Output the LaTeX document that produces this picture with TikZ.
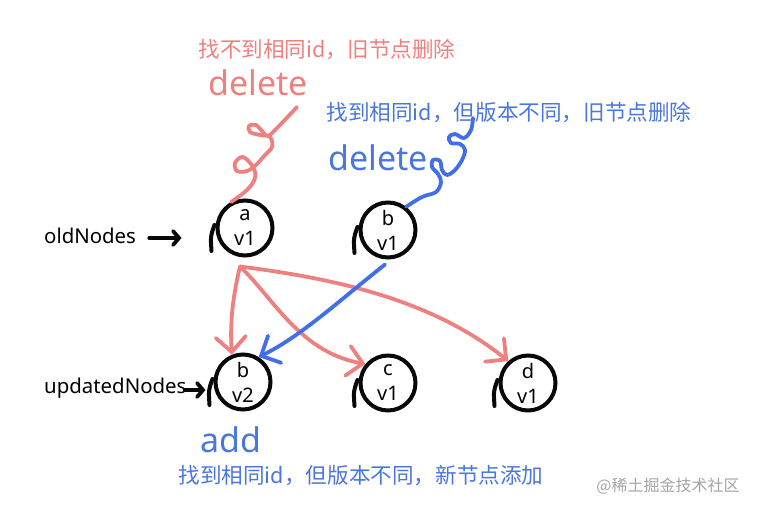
\documentclass[tikz,border=0pt]{standalone}
\usepackage{fontspec}
\setmainfont{Noto Sans}
\newfontfamily\cjk{Noto Sans CJK SC}
\usetikzlibrary{arrows.meta,calc}
\definecolor{lred}{RGB}{238,128,128}
\definecolor{lblue}{RGB}{74,118,222}
\definecolor{sblue}{RGB}{66,110,232}
\definecolor{ink}{RGB}{8,8,8}
\definecolor{wmgray}{RGB}{165,165,165}
\begin{document}
\begin{tikzpicture}[x=1pt,y=-1pt,
  nodecirc/.style={circle, draw=ink, line width=4pt, minimum size=55pt, inner sep=0pt, align=center, font=\fontsize{20}{25}\selectfont},
  tailstroke/.style={draw=ink, line width=4pt, line cap=round},
  blkarrow/.style={draw=ink, line width=3.8pt, line cap=round, -{Straight Barb[length=6pt,width=14pt,line cap=round]}},
  redarrow/.style={draw=lred, line width=3.8pt, line cap=round, -{Straight Barb[length=15pt,width=30pt,line cap=round]}},
  bluearrow/.style={draw=sblue, line width=3.8pt, line cap=round, -{Straight Barb[length=15pt,width=30pt,line cap=round]}},
  squig/.style={line width=3.8pt, line cap=round, line join=round},
  cjklabel/.style={font=\cjk\fontsize{21.6}{23}\selectfont, inner sep=0pt},
  biglabel/.style={font=\fontsize{34}{36}\selectfont, inner sep=0pt},
  sidelabel/.style={font=\fontsize{20.4}{22}\selectfont, inner sep=0pt, anchor=west}
]
\useasboundingbox (0,0) rectangle (770,511);

% nodes
\node[nodecirc] (a)  at (245,228) {a\\v1};
\node[nodecirc] (bo) at (388,230) {b\\v1};
\node[nodecirc] (bn) at (243,382) {b\\v2};
\node[nodecirc] (c)  at (388,383) {c\\v1};
\node[nodecirc] (d)  at (528,383) {d\\v1};

% hand-drawn left tails
\foreach \n in {a,bo,bn,c,d}{
  \draw[tailstroke] ($(\n.west)+(-1,-3)$) .. controls ($(\n.west)+(-5,8)$) .. ($(\n.west)+(-4,23)$);
}

% side labels
\node[sidelabel] (old) at (44,236) {oldNodes};
\node[sidelabel] (upd) at (44,388) {updatedNodes};
\coordinate (oldtail) at ($(old.east)+(13,2)$);
\coordinate (updtail) at ($(upd.east)+(-2,2)$);
\draw[blkarrow] (oldtail) -- ($(a.west)+(-34,10)$);
\draw[blkarrow] (updtail) -- ($(bn.west)+(-8,8)$);

% connectors
\coordinate (as) at ($(a.south)+(-5,9)$);
\draw[redarrow] (as) .. controls (232,300) and (230,325) .. (bn.112);
\draw[redarrow] (as) .. controls (275,300) and (300,352) .. (c.140);
\draw[redarrow] (as) .. controls (330,278) and (430,298) .. (d.132);
\draw[bluearrow] ($(bo.south)+(-3,5)$) .. controls (340,300) and (300,337) .. (bn.58);

% squiggles
\draw[lred, squig] plot[smooth, tension=0.6] coordinates {(a.118) (247,190) (255,178) (253,167) (243,157) (235,163) (237,171) (247,171) (256,165) (264,156) (272,147) (270,137) (260,135) (250,132) (249,126) (256,125) (263,132) (268,136) (278,127) (297,107)};
\draw[sblue, squig] plot[smooth, tension=0.6] coordinates {(bo.52) (422,197) (436,192) (441,182) (438,174) (432,167) (433,160) (440,161) (442,170) (447,175) (455,170) (462,160) (465,150) (460,144) (451,143) (449,137) (455,134) (464,138) (471,130) (473,118)};

% texts
\node[cjklabel, text=lred] (t1) at (327,50) {找不到相同id，旧节点删除};
\node[biglabel, text=lred] (del1) at (258,83) {delete};
\node[cjklabel, text=lblue] (t2) at (509,113) {找到相同id，但版本不同，旧节点删除};
\node[biglabel, text=lblue] (del2) at (378,158) {delete};
\node[biglabel, text=lblue] (add) at (231,440) {add};
\node[cjklabel, text=lblue] (t3) at (361,476) {找到相同id，但版本不同，新节点添加};
\node[font=\cjk\fontsize{16}{18}\selectfont, text=wmgray, inner sep=0pt] (wm) at (668,486) {@稀土掘金技术社区};
\end{tikzpicture}
\end{document}
